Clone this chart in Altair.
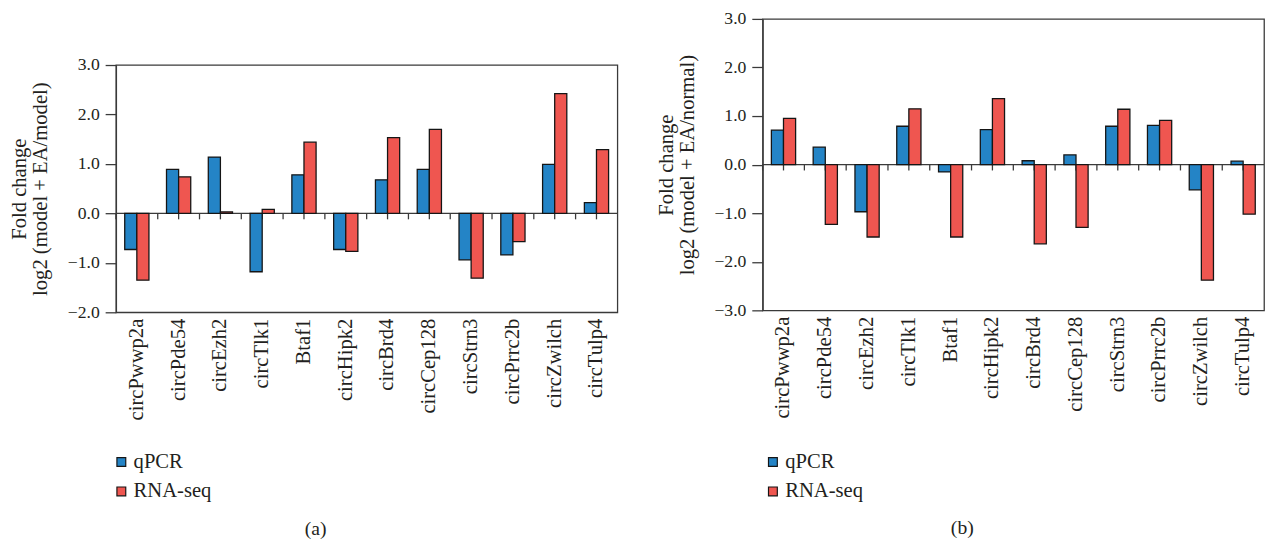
import altair as alt
import pandas as pd

categories = ["circPwwp2a", "circPde54", "circEzh2", "circTlk1", "Btaf1", "circHipk2",
              "circBrd4", "circCep128", "circStrn3", "circPrrc2b", "circZwilch", "circTulp4"]
series = ["qPCR", "RNA-seq"]
colors = ["#2484c6", "#ef5650"]

a_qpcr = [-0.73, 0.89, 1.14, -1.18, 0.78, -0.73, 0.68, 0.89, -0.94, -0.84, 0.99, 0.22]
a_rnaseq = [-1.35, 0.74, 0.03, 0.08, 1.44, -0.77, 1.53, 1.70, -1.31, -0.57, 2.42, 1.29]
b_qpcr = [0.71, 0.36, -0.97, 0.79, -0.15, 0.72, 0.08, 0.20, 0.79, 0.81, -0.52, 0.07]
b_rnaseq = [0.95, -1.23, -1.49, 1.15, -1.49, 1.36, -1.63, -1.29, 1.14, 0.91, -2.38, -1.02]

a_ticks = [-2.0, -1.0, 0.0, 1.0, 2.0, 3.0]
b_ticks = [-3.0, -2.0, -1.0, 0.0, 1.0, 2.0, 3.0]
a_title = ["Fold change", "log2 (model + EA/model)"]
b_title = ["Fold change", "log2 (model + EA/normal)"]

FONT = "Liberation Serif"
INK = "#231f20"
LINE = "#3a3a3a"


def panel(q, r, yticks, ytitle, height, legend_x, legend_y, label, label_y):
    df = pd.DataFrame({
        "category": categories * 2,
        "series": [series[0]] * len(categories) + [series[1]] * len(categories),
        "value": q + r,
    })
    cat_df = pd.DataFrame({"category": categories})
    x_scale = alt.Scale(domain=categories, paddingInner=0, paddingOuter=0)
    y_scale = alt.Scale(domain=[yticks[0], yticks[-1]], nice=False, zero=False)
    x_axis = alt.Axis(
        labelAngle=-90, labelFontSize=21, labelPadding=6, ticks=False, domain=False,
        title=label, titleX=203, titleY=label_y, titleAngle=0, titleAlign="center",
        titleBaseline="middle", titleFontSize=20, titleFontWeight="normal",
    )
    y_axis = alt.Axis(
        values=yticks, format=".1f", tickSize=11, labelPadding=6, labelFontSize=18,
        grid=False, title=ytitle, titleFontSize=21, titleFontWeight="normal",
        titleLineHeight=21, titlePadding=17,
    )

    zero = alt.Chart(cat_df.head(1)).mark_rule(color=LINE, strokeWidth=1.3).encode(
        y=alt.YDatum(0, scale=y_scale, axis=y_axis)
    )
    bound_ticks = alt.Chart(cat_df).mark_rule(color=LINE, strokeWidth=1.3).encode(
        x=alt.X("category:N", sort=categories, scale=x_scale, bandPosition=0, axis=x_axis),
        y=alt.YDatum(0, scale=y_scale, axis=y_axis),
        y2=alt.Y2Datum(-0.12),
    )
    center_ticks = alt.Chart(cat_df).mark_rule(color=LINE, strokeWidth=1.3).encode(
        x=alt.X("category:N", sort=categories, scale=x_scale, axis=x_axis),
        y=alt.YDatum(0, scale=y_scale, axis=y_axis),
        y2=alt.Y2Datum(-0.12),
    )
    bars = alt.Chart(df).mark_bar(stroke="#151515", strokeWidth=1.3).encode(
        x=alt.X("category:N", sort=categories, scale=x_scale, axis=x_axis),
        xOffset=alt.XOffset("series:N", sort=series,
                            scale=alt.Scale(domain=series, paddingInner=0, paddingOuter=0.725)),
        y=alt.Y("value:Q", scale=y_scale, axis=y_axis),
        color=alt.Color(
            "series:N", sort=series, scale=alt.Scale(domain=series, range=colors),
            legend=alt.Legend(
                orient="none", legendX=legend_x, legendY=legend_y, title=None,
                symbolType="square", symbolSize=81, symbolStrokeColor="#151515",
                symbolStrokeWidth=1.2, labelFontSize=21, labelFont=FONT, labelColor=INK,
                rowPadding=8, labelOffset=2,
            ),
        ),
    )
    return alt.layer(zero, bound_ticks, center_ticks, bars).properties(width=511, height=height)


spacer = alt.Chart(pd.DataFrame({"v": [0]})).mark_point(opacity=0).encode(
    x=alt.X("v:Q", axis=None), y=alt.Y("v:Q", axis=None)
).properties(width=1, height=37, view=alt.ViewBackground(strokeOpacity=0))

left = panel(a_qpcr, a_rnaseq, a_ticks, a_title, 252, -5, 441, "(a)", 220)
left_col = alt.vconcat(spacer, left, spacing=0).resolve_scale(
    x="independent", y="independent"
)
right = panel(b_qpcr, b_rnaseq, b_ticks, b_title, 297, 0, 441, "(b)", 221)

chart = alt.hconcat(left_col, right, spacing=36).resolve_scale(
    x="independent", y="independent", color="independent"
).resolve_legend(color="independent").properties(
    padding={"left": 0, "top": -4, "right": 0, "bottom": 0}
).configure_view(
    stroke=LINE, strokeWidth=1.3
).configure_axis(
    labelFont=FONT, titleFont=FONT, labelColor=INK, titleColor=INK,
    domainColor=LINE, tickColor=LINE, domainWidth=1.3, tickWidth=1.3,
).configure_title(font=FONT)

chart.save("out.html", embed_options={"renderer": "svg", "actions": False})
